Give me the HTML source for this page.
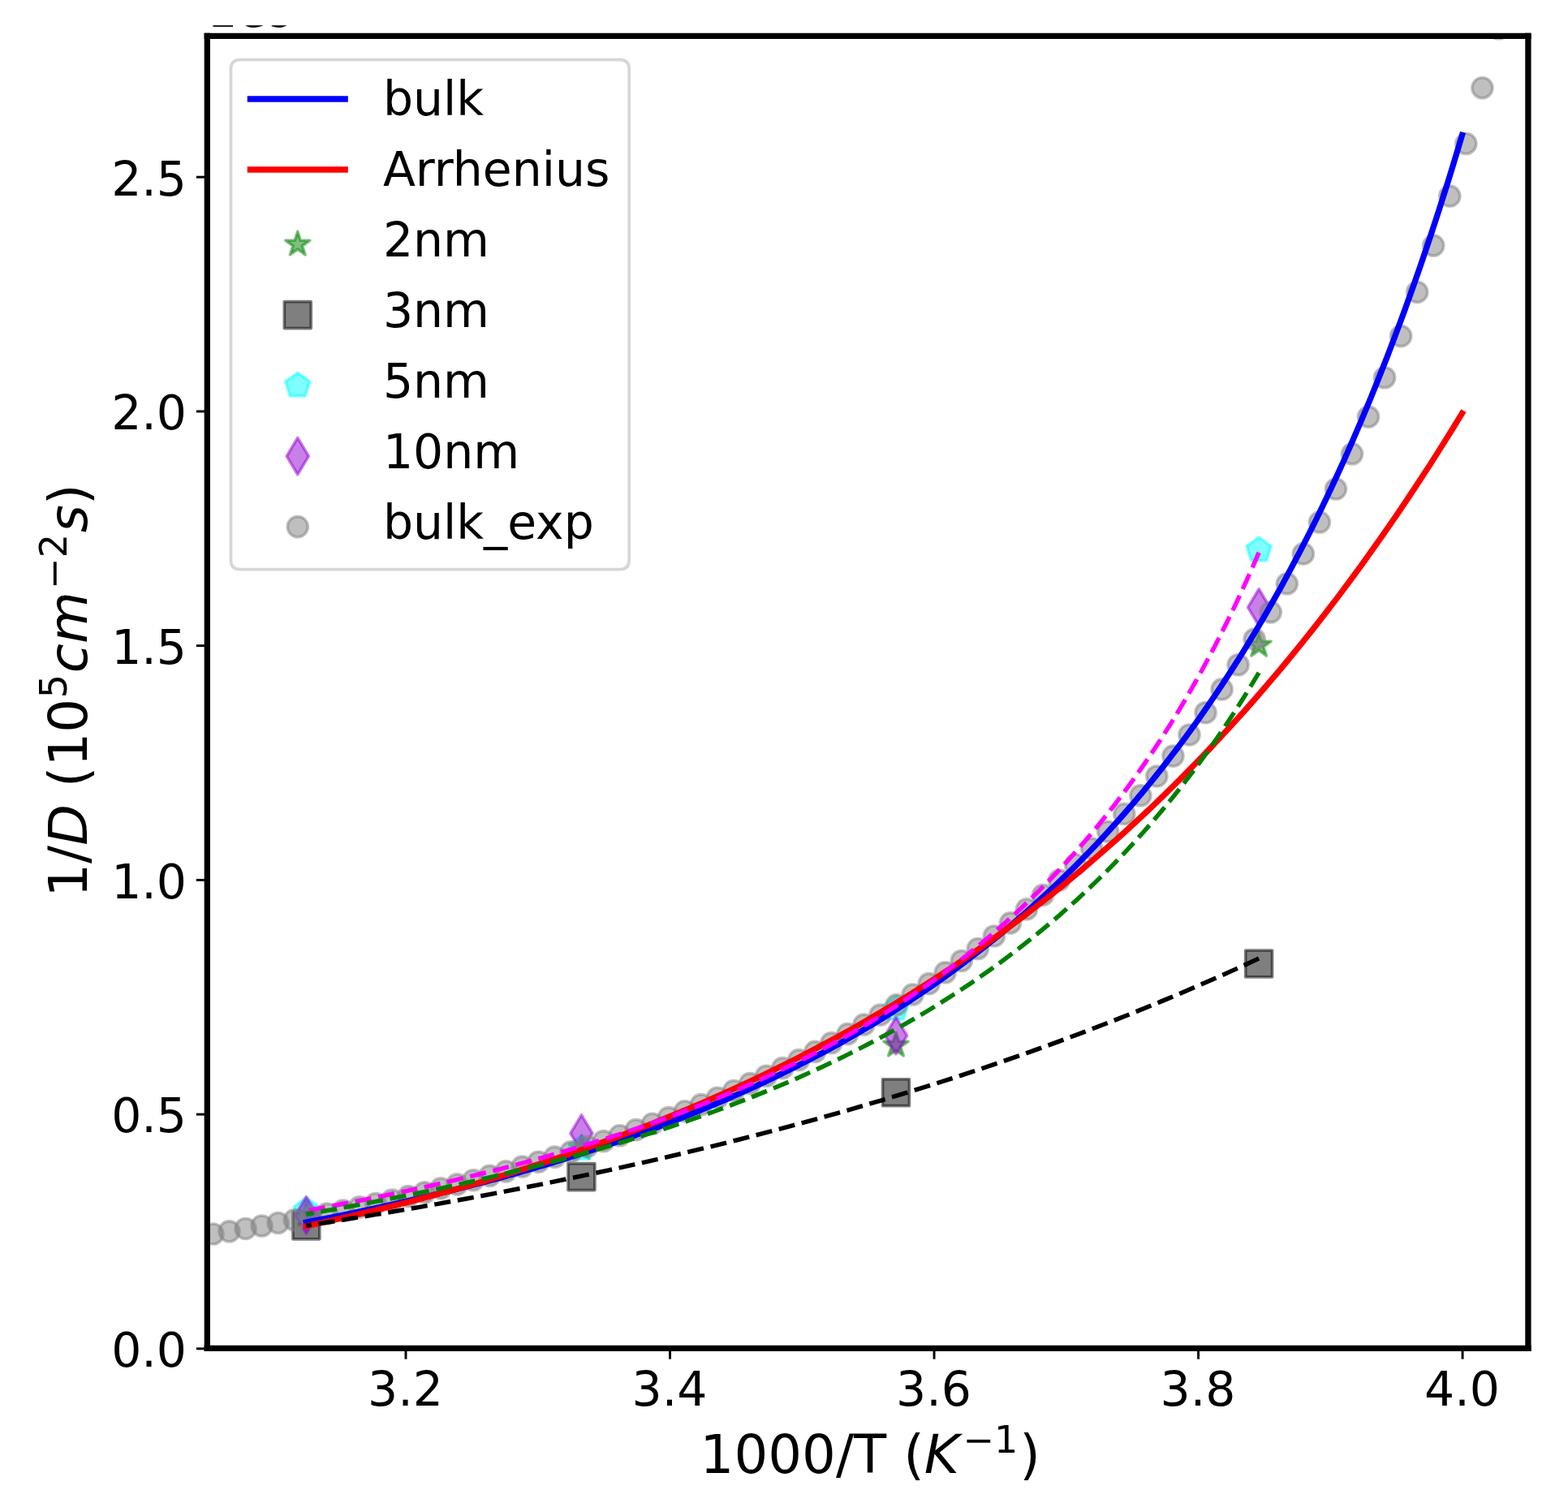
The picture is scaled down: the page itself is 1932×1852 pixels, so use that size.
<!DOCTYPE html>
<html><head><meta charset="utf-8"><title>1/D vs 1000/T</title>
<style>html,body{margin:0;padding:0;background:#fff;}svg{display:block;}</style>
</head><body>
<svg width="1932" height="1852" viewBox="0 0 1932 1852" version="1.1">
  <defs>
  <style type="text/css">*{stroke-linejoin: round; stroke-linecap: butt}</style>
 </defs>
 <g id="figure_1">
  <g id="patch_1">
   <path d="M 0 1852 L 1932 1852 L 1932 0 L 0 0 z
" style="fill: #ffffff"/>
  </g>
  <g id="axes_1">
   <g id="patch_2">
    <path d="M 255.3 1661.3 L 1882.9 1661.3 L 1882.9 44.4 L 255.3 44.4 z
" style="fill: #ffffff"/>
   </g>
   <g id="PathCollection_1">
    <defs>
     <path id="m8fa12c4485" d="M 0 -15.75 L -3.536095 -4.867018 L -14.97914 -4.867018 L -5.721522 1.859035 L -9.257618 12.742018 L -0 6.015965 L 9.257618 12.742018 L 5.721522 1.859035 L 14.97914 -4.867018 L 3.536095 -4.867018 z
" style="stroke: #008000; stroke-opacity: 0.5; stroke-width: 3.65"/>
    </defs>
    <g clip-path="url(#p1ad1f65f1b)">
     <use href="#m8fa12c4485" x="377.37" y="1496.433946" style="fill: #008000; fill-opacity: 0.5; stroke: #008000; stroke-opacity: 0.5; stroke-width: 3.65"/>
     <use href="#m8fa12c4485" x="716.453333" y="1414.895989" style="fill: #008000; fill-opacity: 0.5; stroke: #008000; stroke-opacity: 0.5; stroke-width: 3.65"/>
     <use href="#m8fa12c4485" x="1103.977143" y="1288.142579" style="fill: #008000; fill-opacity: 0.5; stroke: #008000; stroke-opacity: 0.5; stroke-width: 3.65"/>
     <use href="#m8fa12c4485" x="1551.12" y="795.161318" style="fill: #008000; fill-opacity: 0.5; stroke: #008000; stroke-opacity: 0.5; stroke-width: 3.65"/>
    </g>
   </g>
   <g id="PathCollection_2">
    <defs>
     <path id="md2a909c554" d="M -16.45 16.45 L 16.45 16.45 L 16.45 -16.45 L -16.45 -16.45 z
" style="stroke: #000000; stroke-opacity: 0.5; stroke-width: 3.65"/>
    </defs>
    <g clip-path="url(#p1ad1f65f1b)">
     <use href="#md2a909c554" x="377.37" y="1510.350836" style="fill-opacity: 0.5; stroke: #000000; stroke-opacity: 0.5; stroke-width: 3.65"/>
     <use href="#md2a909c554" x="716.453333" y="1450.121311" style="fill-opacity: 0.5; stroke: #000000; stroke-opacity: 0.5; stroke-width: 3.65"/>
     <use href="#md2a909c554" x="1103.977143" y="1346.177739" style="fill-opacity: 0.5; stroke: #000000; stroke-opacity: 0.5; stroke-width: 3.65"/>
     <use href="#md2a909c554" x="1551.12" y="1187.432807" style="fill-opacity: 0.5; stroke: #000000; stroke-opacity: 0.5; stroke-width: 3.65"/>
    </g>
   </g>
   <g id="PathCollection_3">
    <defs>
     <path id="m8193bdbd17" d="M 0 -15.75 L -14.97914 -4.867018 L -9.257618 12.742018 L 9.257618 12.742018 L 14.97914 -4.867018 z
" style="stroke: #00ffff; stroke-opacity: 0.5; stroke-width: 3.65"/>
    </defs>
    <g clip-path="url(#p1ad1f65f1b)">
     <use href="#m8193bdbd17" x="377.37" y="1491.5255" style="fill: #00ffff; fill-opacity: 0.5; stroke: #00ffff; stroke-opacity: 0.5; stroke-width: 3.65"/>
     <use href="#m8193bdbd17" x="716.453333" y="1415.357961" style="fill: #00ffff; fill-opacity: 0.5; stroke: #00ffff; stroke-opacity: 0.5; stroke-width: 3.65"/>
     <use href="#m8193bdbd17" x="1103.977143" y="1243.100364" style="fill: #00ffff; fill-opacity: 0.5; stroke: #00ffff; stroke-opacity: 0.5; stroke-width: 3.65"/>
     <use href="#m8193bdbd17" x="1551.12" y="677.878321" style="fill: #00ffff; fill-opacity: 0.5; stroke: #00ffff; stroke-opacity: 0.5; stroke-width: 3.65"/>
    </g>
   </g>
   <g id="PathCollection_4">
    <defs>
     <path id="mdb03f9ca61" d="M -0 22.627417 L 13.57645 0 L 0 -22.627417 L -13.57645 -0 z
" style="stroke: #9400d3; stroke-opacity: 0.5; stroke-width: 3.65"/>
    </defs>
    <g clip-path="url(#p1ad1f65f1b)">
     <use href="#mdb03f9ca61" x="377.37" y="1497.300143" style="fill: #9400d3; fill-opacity: 0.5; stroke: #9400d3; stroke-opacity: 0.5; stroke-width: 3.65"/>
     <use href="#mdb03f9ca61" x="716.453333" y="1396.532625" style="fill: #9400d3; fill-opacity: 0.5; stroke: #9400d3; stroke-opacity: 0.5; stroke-width: 3.65"/>
     <use href="#mdb03f9ca61" x="1103.977143" y="1276.073575" style="fill: #9400d3; fill-opacity: 0.5; stroke: #9400d3; stroke-opacity: 0.5; stroke-width: 3.65"/>
     <use href="#mdb03f9ca61" x="1551.12" y="748.328964" style="fill: #9400d3; fill-opacity: 0.5; stroke: #9400d3; stroke-opacity: 0.5; stroke-width: 3.65"/>
    </g>
   </g>
   <g id="PathCollection_5">
    <defs>
     <path id="m3ee8f2ef3a" d="M 0 12.5 C 3.315039 12.5 6.494748 11.182921 8.838835 8.838835 C 11.182921 6.494748 12.5 3.315039 12.5 0 C 12.5 -3.315039 11.182921 -6.494748 8.838835 -8.838835 C 6.494748 -11.182921 3.315039 -12.5 0 -12.5 C -3.315039 -12.5 -6.494748 -11.182921 -8.838835 -8.838835 C -11.182921 -6.494748 -12.5 -3.315039 -12.5 0 C -12.5 3.315039 -11.182921 6.494748 -8.838835 8.838835 C -6.494748 11.182921 -3.315039 12.5 0 12.5 z
" style="stroke: #808080; stroke-opacity: 0.5; stroke-width: 3.65"/>
    </defs>
    <g clip-path="url(#p1ad1f65f1b)">
     <use href="#m3ee8f2ef3a" x="242.411036" y="1523.673043" style="fill: #808080; fill-opacity: 0.5; stroke: #808080; stroke-opacity: 0.5; stroke-width: 3.65"/>
     <use href="#m3ee8f2ef3a" x="262.46144" y="1520.549419" style="fill: #808080; fill-opacity: 0.5; stroke: #808080; stroke-opacity: 0.5; stroke-width: 3.65"/>
     <use href="#m3ee8f2ef3a" x="282.511844" y="1517.321386" style="fill: #808080; fill-opacity: 0.5; stroke: #808080; stroke-opacity: 0.5; stroke-width: 3.65"/>
     <use href="#m3ee8f2ef3a" x="302.562249" y="1513.986214" style="fill: #808080; fill-opacity: 0.5; stroke: #808080; stroke-opacity: 0.5; stroke-width: 3.65"/>
     <use href="#m3ee8f2ef3a" x="322.612653" y="1510.541058" style="fill: #808080; fill-opacity: 0.5; stroke: #808080; stroke-opacity: 0.5; stroke-width: 3.65"/>
     <use href="#m3ee8f2ef3a" x="342.663058" y="1506.982958" style="fill: #808080; fill-opacity: 0.5; stroke: #808080; stroke-opacity: 0.5; stroke-width: 3.65"/>
     <use href="#m3ee8f2ef3a" x="362.713462" y="1503.308827" style="fill: #808080; fill-opacity: 0.5; stroke: #808080; stroke-opacity: 0.5; stroke-width: 3.65"/>
     <use href="#m3ee8f2ef3a" x="382.763866" y="1499.515449" style="fill: #808080; fill-opacity: 0.5; stroke: #808080; stroke-opacity: 0.5; stroke-width: 3.65"/>
     <use href="#m3ee8f2ef3a" x="402.814271" y="1495.599471" style="fill: #808080; fill-opacity: 0.5; stroke: #808080; stroke-opacity: 0.5; stroke-width: 3.65"/>
     <use href="#m3ee8f2ef3a" x="422.864675" y="1491.557397" style="fill: #808080; fill-opacity: 0.5; stroke: #808080; stroke-opacity: 0.5; stroke-width: 3.65"/>
     <use href="#m3ee8f2ef3a" x="442.91508" y="1487.385578" style="fill: #808080; fill-opacity: 0.5; stroke: #808080; stroke-opacity: 0.5; stroke-width: 3.65"/>
     <use href="#m3ee8f2ef3a" x="462.965484" y="1483.080206" style="fill: #808080; fill-opacity: 0.5; stroke: #808080; stroke-opacity: 0.5; stroke-width: 3.65"/>
     <use href="#m3ee8f2ef3a" x="483.015888" y="1478.637303" style="fill: #808080; fill-opacity: 0.5; stroke: #808080; stroke-opacity: 0.5; stroke-width: 3.65"/>
     <use href="#m3ee8f2ef3a" x="503.066293" y="1474.052711" style="fill: #808080; fill-opacity: 0.5; stroke: #808080; stroke-opacity: 0.5; stroke-width: 3.65"/>
     <use href="#m3ee8f2ef3a" x="523.116697" y="1469.322086" style="fill: #808080; fill-opacity: 0.5; stroke: #808080; stroke-opacity: 0.5; stroke-width: 3.65"/>
     <use href="#m3ee8f2ef3a" x="543.167102" y="1464.440879" style="fill: #808080; fill-opacity: 0.5; stroke: #808080; stroke-opacity: 0.5; stroke-width: 3.65"/>
     <use href="#m3ee8f2ef3a" x="563.217506" y="1459.40433" style="fill: #808080; fill-opacity: 0.5; stroke: #808080; stroke-opacity: 0.5; stroke-width: 3.65"/>
     <use href="#m3ee8f2ef3a" x="583.26791" y="1454.207455" style="fill: #808080; fill-opacity: 0.5; stroke: #808080; stroke-opacity: 0.5; stroke-width: 3.65"/>
     <use href="#m3ee8f2ef3a" x="603.318315" y="1448.845027" style="fill: #808080; fill-opacity: 0.5; stroke: #808080; stroke-opacity: 0.5; stroke-width: 3.65"/>
     <use href="#m3ee8f2ef3a" x="623.368719" y="1443.311566" style="fill: #808080; fill-opacity: 0.5; stroke: #808080; stroke-opacity: 0.5; stroke-width: 3.65"/>
     <use href="#m3ee8f2ef3a" x="643.419124" y="1437.601321" style="fill: #808080; fill-opacity: 0.5; stroke: #808080; stroke-opacity: 0.5; stroke-width: 3.65"/>
     <use href="#m3ee8f2ef3a" x="663.469528" y="1431.708251" style="fill: #808080; fill-opacity: 0.5; stroke: #808080; stroke-opacity: 0.5; stroke-width: 3.65"/>
     <use href="#m3ee8f2ef3a" x="683.519932" y="1425.626011" style="fill: #808080; fill-opacity: 0.5; stroke: #808080; stroke-opacity: 0.5; stroke-width: 3.65"/>
     <use href="#m3ee8f2ef3a" x="703.570337" y="1419.347927" style="fill: #808080; fill-opacity: 0.5; stroke: #808080; stroke-opacity: 0.5; stroke-width: 3.65"/>
     <use href="#m3ee8f2ef3a" x="723.620741" y="1412.866979" style="fill: #808080; fill-opacity: 0.5; stroke: #808080; stroke-opacity: 0.5; stroke-width: 3.65"/>
     <use href="#m3ee8f2ef3a" x="743.671146" y="1406.175773" style="fill: #808080; fill-opacity: 0.5; stroke: #808080; stroke-opacity: 0.5; stroke-width: 3.65"/>
     <use href="#m3ee8f2ef3a" x="763.72155" y="1399.266522" style="fill: #808080; fill-opacity: 0.5; stroke: #808080; stroke-opacity: 0.5; stroke-width: 3.65"/>
     <use href="#m3ee8f2ef3a" x="783.771954" y="1392.131018" style="fill: #808080; fill-opacity: 0.5; stroke: #808080; stroke-opacity: 0.5; stroke-width: 3.65"/>
     <use href="#m3ee8f2ef3a" x="803.822359" y="1384.7606" style="fill: #808080; fill-opacity: 0.5; stroke: #808080; stroke-opacity: 0.5; stroke-width: 3.65"/>
     <use href="#m3ee8f2ef3a" x="823.872763" y="1377.146129" style="fill: #808080; fill-opacity: 0.5; stroke: #808080; stroke-opacity: 0.5; stroke-width: 3.65"/>
     <use href="#m3ee8f2ef3a" x="843.923168" y="1369.277952" style="fill: #808080; fill-opacity: 0.5; stroke: #808080; stroke-opacity: 0.5; stroke-width: 3.65"/>
     <use href="#m3ee8f2ef3a" x="863.973572" y="1361.145867" style="fill: #808080; fill-opacity: 0.5; stroke: #808080; stroke-opacity: 0.5; stroke-width: 3.65"/>
     <use href="#m3ee8f2ef3a" x="884.023976" y="1352.739089" style="fill: #808080; fill-opacity: 0.5; stroke: #808080; stroke-opacity: 0.5; stroke-width: 3.65"/>
     <use href="#m3ee8f2ef3a" x="904.074381" y="1344.046203" style="fill: #808080; fill-opacity: 0.5; stroke: #808080; stroke-opacity: 0.5; stroke-width: 3.65"/>
     <use href="#m3ee8f2ef3a" x="924.124785" y="1335.055129" style="fill: #808080; fill-opacity: 0.5; stroke: #808080; stroke-opacity: 0.5; stroke-width: 3.65"/>
     <use href="#m3ee8f2ef3a" x="944.17519" y="1325.753068" style="fill: #808080; fill-opacity: 0.5; stroke: #808080; stroke-opacity: 0.5; stroke-width: 3.65"/>
     <use href="#m3ee8f2ef3a" x="964.225594" y="1316.126454" style="fill: #808080; fill-opacity: 0.5; stroke: #808080; stroke-opacity: 0.5; stroke-width: 3.65"/>
     <use href="#m3ee8f2ef3a" x="984.275998" y="1306.160903" style="fill: #808080; fill-opacity: 0.5; stroke: #808080; stroke-opacity: 0.5; stroke-width: 3.65"/>
     <use href="#m3ee8f2ef3a" x="1004.326403" y="1295.84115" style="fill: #808080; fill-opacity: 0.5; stroke: #808080; stroke-opacity: 0.5; stroke-width: 3.65"/>
     <use href="#m3ee8f2ef3a" x="1024.376807" y="1285.150989" style="fill: #808080; fill-opacity: 0.5; stroke: #808080; stroke-opacity: 0.5; stroke-width: 3.65"/>
     <use href="#m3ee8f2ef3a" x="1044.427212" y="1274.073203" style="fill: #808080; fill-opacity: 0.5; stroke: #808080; stroke-opacity: 0.5; stroke-width: 3.65"/>
     <use href="#m3ee8f2ef3a" x="1064.477616" y="1262.589496" style="fill: #808080; fill-opacity: 0.5; stroke: #808080; stroke-opacity: 0.5; stroke-width: 3.65"/>
     <use href="#m3ee8f2ef3a" x="1084.52802" y="1250.680408" style="fill: #808080; fill-opacity: 0.5; stroke: #808080; stroke-opacity: 0.5; stroke-width: 3.65"/>
     <use href="#m3ee8f2ef3a" x="1104.578425" y="1238.325232" style="fill: #808080; fill-opacity: 0.5; stroke: #808080; stroke-opacity: 0.5; stroke-width: 3.65"/>
     <use href="#m3ee8f2ef3a" x="1124.628829" y="1225.501924" style="fill: #808080; fill-opacity: 0.5; stroke: #808080; stroke-opacity: 0.5; stroke-width: 3.65"/>
     <use href="#m3ee8f2ef3a" x="1144.679234" y="1212.187" style="fill: #808080; fill-opacity: 0.5; stroke: #808080; stroke-opacity: 0.5; stroke-width: 3.65"/>
     <use href="#m3ee8f2ef3a" x="1164.729638" y="1198.355431" style="fill: #808080; fill-opacity: 0.5; stroke: #808080; stroke-opacity: 0.5; stroke-width: 3.65"/>
     <use href="#m3ee8f2ef3a" x="1184.780042" y="1183.980525" style="fill: #808080; fill-opacity: 0.5; stroke: #808080; stroke-opacity: 0.5; stroke-width: 3.65"/>
     <use href="#m3ee8f2ef3a" x="1204.830447" y="1169.033799" style="fill: #808080; fill-opacity: 0.5; stroke: #808080; stroke-opacity: 0.5; stroke-width: 3.65"/>
     <use href="#m3ee8f2ef3a" x="1224.880851" y="1153.484845" style="fill: #808080; fill-opacity: 0.5; stroke: #808080; stroke-opacity: 0.5; stroke-width: 3.65"/>
     <use href="#m3ee8f2ef3a" x="1244.931256" y="1137.301178" style="fill: #808080; fill-opacity: 0.5; stroke: #808080; stroke-opacity: 0.5; stroke-width: 3.65"/>
     <use href="#m3ee8f2ef3a" x="1264.98166" y="1120.448076" style="fill: #808080; fill-opacity: 0.5; stroke: #808080; stroke-opacity: 0.5; stroke-width: 3.65"/>
     <use href="#m3ee8f2ef3a" x="1285.032064" y="1102.888402" style="fill: #808080; fill-opacity: 0.5; stroke: #808080; stroke-opacity: 0.5; stroke-width: 3.65"/>
     <use href="#m3ee8f2ef3a" x="1305.082469" y="1084.582415" style="fill: #808080; fill-opacity: 0.5; stroke: #808080; stroke-opacity: 0.5; stroke-width: 3.65"/>
     <use href="#m3ee8f2ef3a" x="1325.132873" y="1065.487561" style="fill: #808080; fill-opacity: 0.5; stroke: #808080; stroke-opacity: 0.5; stroke-width: 3.65"/>
     <use href="#m3ee8f2ef3a" x="1345.183278" y="1045.558243" style="fill: #808080; fill-opacity: 0.5; stroke: #808080; stroke-opacity: 0.5; stroke-width: 3.65"/>
     <use href="#m3ee8f2ef3a" x="1365.233682" y="1024.745577" style="fill: #808080; fill-opacity: 0.5; stroke: #808080; stroke-opacity: 0.5; stroke-width: 3.65"/>
     <use href="#m3ee8f2ef3a" x="1385.284086" y="1002.99712" style="fill: #808080; fill-opacity: 0.5; stroke: #808080; stroke-opacity: 0.5; stroke-width: 3.65"/>
     <use href="#m3ee8f2ef3a" x="1405.334491" y="980.256575" style="fill: #808080; fill-opacity: 0.5; stroke: #808080; stroke-opacity: 0.5; stroke-width: 3.65"/>
     <use href="#m3ee8f2ef3a" x="1425.384895" y="956.463466" style="fill: #808080; fill-opacity: 0.5; stroke: #808080; stroke-opacity: 0.5; stroke-width: 3.65"/>
     <use href="#m3ee8f2ef3a" x="1445.4353" y="931.55279" style="fill: #808080; fill-opacity: 0.5; stroke: #808080; stroke-opacity: 0.5; stroke-width: 3.65"/>
     <use href="#m3ee8f2ef3a" x="1465.485704" y="905.454624" style="fill: #808080; fill-opacity: 0.5; stroke: #808080; stroke-opacity: 0.5; stroke-width: 3.65"/>
     <use href="#m3ee8f2ef3a" x="1485.536108" y="878.093704" style="fill: #808080; fill-opacity: 0.5; stroke: #808080; stroke-opacity: 0.5; stroke-width: 3.65"/>
     <use href="#m3ee8f2ef3a" x="1505.586513" y="849.388959" style="fill: #808080; fill-opacity: 0.5; stroke: #808080; stroke-opacity: 0.5; stroke-width: 3.65"/>
     <use href="#m3ee8f2ef3a" x="1525.636917" y="819.253002" style="fill: #808080; fill-opacity: 0.5; stroke: #808080; stroke-opacity: 0.5; stroke-width: 3.65"/>
     <use href="#m3ee8f2ef3a" x="1545.687322" y="787.591566" style="fill: #808080; fill-opacity: 0.5; stroke: #808080; stroke-opacity: 0.5; stroke-width: 3.65"/>
     <use href="#m3ee8f2ef3a" x="1565.737726" y="754.302887" style="fill: #808080; fill-opacity: 0.5; stroke: #808080; stroke-opacity: 0.5; stroke-width: 3.65"/>
     <use href="#m3ee8f2ef3a" x="1585.78813" y="719.277024" style="fill: #808080; fill-opacity: 0.5; stroke: #808080; stroke-opacity: 0.5; stroke-width: 3.65"/>
     <use href="#m3ee8f2ef3a" x="1605.838535" y="682.395111" style="fill: #808080; fill-opacity: 0.5; stroke: #808080; stroke-opacity: 0.5; stroke-width: 3.65"/>
     <use href="#m3ee8f2ef3a" x="1625.888939" y="643.528528" style="fill: #808080; fill-opacity: 0.5; stroke: #808080; stroke-opacity: 0.5; stroke-width: 3.65"/>
     <use href="#m3ee8f2ef3a" x="1645.939344" y="602.537991" style="fill: #808080; fill-opacity: 0.5; stroke: #808080; stroke-opacity: 0.5; stroke-width: 3.65"/>
     <use href="#m3ee8f2ef3a" x="1665.989748" y="559.272539" style="fill: #808080; fill-opacity: 0.5; stroke: #808080; stroke-opacity: 0.5; stroke-width: 3.65"/>
     <use href="#m3ee8f2ef3a" x="1686.040152" y="513.568422" style="fill: #808080; fill-opacity: 0.5; stroke: #808080; stroke-opacity: 0.5; stroke-width: 3.65"/>
     <use href="#m3ee8f2ef3a" x="1706.090557" y="465.247864" style="fill: #808080; fill-opacity: 0.5; stroke: #808080; stroke-opacity: 0.5; stroke-width: 3.65"/>
     <use href="#m3ee8f2ef3a" x="1726.140961" y="414.117688" style="fill: #808080; fill-opacity: 0.5; stroke: #808080; stroke-opacity: 0.5; stroke-width: 3.65"/>
     <use href="#m3ee8f2ef3a" x="1746.191366" y="359.967806" style="fill: #808080; fill-opacity: 0.5; stroke: #808080; stroke-opacity: 0.5; stroke-width: 3.65"/>
     <use href="#m3ee8f2ef3a" x="1766.24177" y="302.569517" style="fill: #808080; fill-opacity: 0.5; stroke: #808080; stroke-opacity: 0.5; stroke-width: 3.65"/>
     <use href="#m3ee8f2ef3a" x="1786.292174" y="241.673642" style="fill: #808080; fill-opacity: 0.5; stroke: #808080; stroke-opacity: 0.5; stroke-width: 3.65"/>
     <use href="#m3ee8f2ef3a" x="1806.342579" y="177.008425" style="fill: #808080; fill-opacity: 0.5; stroke: #808080; stroke-opacity: 0.5; stroke-width: 3.65"/>
     <use href="#m3ee8f2ef3a" x="1826.392983" y="108.277205" style="fill: #808080; fill-opacity: 0.5; stroke: #808080; stroke-opacity: 0.5; stroke-width: 3.65"/>
     <use href="#m3ee8f2ef3a" x="1846.443388" y="35.276064" style="fill: #808080; fill-opacity: 0.5; stroke: #808080; stroke-opacity: 0.5; stroke-width: 3.65"/>
    </g>
   </g>
   <g id="matplotlib.axis_1">
    <g id="xtick_1">
     <g id="xtm1" transform="translate(0.55 0)">
      <defs>
       <path id="mb03ee0408a" d="M 0 0 L 0 13.4 " style="stroke: #000000; stroke-width: 2.95"/>
      </defs>
      <g>
       <use href="#mb03ee0408a" x="499.44" y="1661.3" style="stroke: #000000; stroke-width: 2.95"/>
      </g>
     </g>
     <g id="xtl1" transform="translate(0 0.5)">
      <text style="font-size: 58.4px; font-family: 'DejaVu Sans', sans-serif; text-anchor: middle" x="499.44" y="1731.849875" transform="rotate(-0 499.44 1731.849875)">3.2</text>
     </g>
    </g>
    <g id="xtick_2">
     <g id="xtm2" transform="translate(0.55 0)">
      <g>
       <use href="#mb03ee0408a" x="824.96" y="1661.3" style="stroke: #000000; stroke-width: 2.95"/>
      </g>
     </g>
     <g id="xtl2" transform="translate(0 0.5)">
      <text style="font-size: 58.4px; font-family: 'DejaVu Sans', sans-serif; text-anchor: middle" x="824.96" y="1731.849875" transform="rotate(-0 824.96 1731.849875)">3.4</text>
     </g>
    </g>
    <g id="xtick_3">
     <g id="xtm3" transform="translate(0.55 0)">
      <g>
       <use href="#mb03ee0408a" x="1150.48" y="1661.3" style="stroke: #000000; stroke-width: 2.95"/>
      </g>
     </g>
     <g id="xtl3" transform="translate(0 0.5)">
      <text style="font-size: 58.4px; font-family: 'DejaVu Sans', sans-serif; text-anchor: middle" x="1150.48" y="1731.849875" transform="rotate(-0 1150.48 1731.849875)">3.6</text>
     </g>
    </g>
    <g id="xtick_4">
     <g id="xtm4" transform="translate(0.55 0)">
      <g>
       <use href="#mb03ee0408a" x="1476" y="1661.3" style="stroke: #000000; stroke-width: 2.95"/>
      </g>
     </g>
     <g id="xtl4" transform="translate(0 0.5)">
      <text style="font-size: 58.4px; font-family: 'DejaVu Sans', sans-serif; text-anchor: middle" x="1476" y="1731.849875" transform="rotate(-0 1476 1731.849875)">3.8</text>
     </g>
    </g>
    <g id="xtick_5">
     <g id="xtm5" transform="translate(0.55 0)">
      <g>
       <use href="#mb03ee0408a" x="1801.52" y="1661.3" style="stroke: #000000; stroke-width: 2.95"/>
      </g>
     </g>
     <g id="xtl5" transform="translate(0 0.5)">
      <text style="font-size: 58.4px; font-family: 'DejaVu Sans', sans-serif; text-anchor: middle" x="1801.52" y="1731.849875" transform="rotate(-0 1801.52 1731.849875)">4.0</text>
     </g>
    </g>
    <g id="xlabel" transform="translate(3.1 1.9)">
     <!-- 1000/T ($K^{-1}$) -->
     <g transform="translate(859.517 1813.259703)">
      <text>
       <tspan x="0" y="-0.057813" style="font-size: 65.7px; font-family: 'DejaVu Sans', sans-serif">1</tspan>
       <tspan x="41.832153" y="-0.057813" style="font-size: 65.7px; font-family: 'DejaVu Sans', sans-serif">0</tspan>
       <tspan x="83.664307" y="-0.057813" style="font-size: 65.7px; font-family: 'DejaVu Sans', sans-serif">0</tspan>
       <tspan x="125.49646" y="-0.057813" style="font-size: 65.7px; font-family: 'DejaVu Sans', sans-serif">0</tspan>
       <tspan x="167.328613" y="-0.057813" style="font-size: 65.7px; font-family: 'DejaVu Sans', sans-serif">/</tspan>
       <tspan x="189.480713" y="-0.057813" style="font-size: 65.7px; font-family: 'DejaVu Sans', sans-serif">T</tspan>
       <tspan x="229.643433" y="-0.057813" style="font-size: 65.7px; font-family: 'DejaVu Sans', sans-serif"> </tspan>
       <tspan x="250.543457" y="-0.057813" style="font-size: 65.7px; font-family: 'DejaVu Sans', sans-serif">(</tspan>
       <tspan x="393.592234" y="-0.057813" style="font-size: 65.7px; font-family: 'DejaVu Sans', sans-serif">)</tspan>
       <tspan x="276.194946" y="-0.057813" style="font-style: oblique; font-size: 65.7px; font-family: 'DejaVu Sans', sans-serif">K</tspan>
       <tspan x="323.941123" y="-25.323438" style="font-size: 45.99px; font-family: 'DejaVu Sans', sans-serif">−</tspan>
       <tspan x="362.505039" y="-25.323438" style="font-size: 45.99px; font-family: 'DejaVu Sans', sans-serif">1</tspan>
      </text>
     </g>
    </g>
   </g>
   <g id="matplotlib.axis_2">
    <g id="ytick_1">
     <g id="ytm0" transform="translate(0 0.55)">
      <defs>
       <path id="md7cd1e21f3" d="M 0 0 L -13.4 0 " style="stroke: #000000; stroke-width: 2.95"/>
      </defs>
      <g>
       <use href="#md7cd1e21f3" x="255.3" y="1661.3" style="stroke: #000000; stroke-width: 2.95"/>
      </g>
     </g>
     <g id="ytl0" transform="translate(0.9 0.7)">
      <text style="font-size: 58.4px; font-family: 'DejaVu Sans', sans-serif; text-anchor: end" x="229.125" y="1683.487437" transform="rotate(-0 229.125 1683.487437)">0.0</text>
     </g>
    </g>
    <g id="ytick_2">
     <g id="ytm1" transform="translate(0 0.55)">
      <g>
       <use href="#md7cd1e21f3" x="255.3" y="1372.567857" style="stroke: #000000; stroke-width: 2.95"/>
      </g>
     </g>
     <g id="ytl1" transform="translate(0.9 0.7)">
      <text style="font-size: 58.4px; font-family: 'DejaVu Sans', sans-serif; text-anchor: end" x="229.125" y="1394.755295" transform="rotate(-0 229.125 1394.755295)">0.5</text>
     </g>
    </g>
    <g id="ytick_3">
     <g id="ytm2" transform="translate(0 0.55)">
      <g>
       <use href="#md7cd1e21f3" x="255.3" y="1083.835714" style="stroke: #000000; stroke-width: 2.95"/>
      </g>
     </g>
     <g id="ytl2" transform="translate(0.9 0.7)">
      <text style="font-size: 58.4px; font-family: 'DejaVu Sans', sans-serif; text-anchor: end" x="229.125" y="1106.023152" transform="rotate(-0 229.125 1106.023152)">1.0</text>
     </g>
    </g>
    <g id="ytick_4">
     <g id="ytm3" transform="translate(0 0.55)">
      <g>
       <use href="#md7cd1e21f3" x="255.3" y="795.103571" style="stroke: #000000; stroke-width: 2.95"/>
      </g>
     </g>
     <g id="ytl3" transform="translate(0.9 0.7)">
      <text style="font-size: 58.4px; font-family: 'DejaVu Sans', sans-serif; text-anchor: end" x="229.125" y="817.291009" transform="rotate(-0 229.125 817.291009)">1.5</text>
     </g>
    </g>
    <g id="ytick_5">
     <g id="ytm4" transform="translate(0 0.55)">
      <g>
       <use href="#md7cd1e21f3" x="255.3" y="506.371429" style="stroke: #000000; stroke-width: 2.95"/>
      </g>
     </g>
     <g id="ytl4" transform="translate(0.9 0.7)">
      <text style="font-size: 58.4px; font-family: 'DejaVu Sans', sans-serif; text-anchor: end" x="229.125" y="528.558866" transform="rotate(-0 229.125 528.558866)">2.0</text>
     </g>
    </g>
    <g id="ytick_6">
     <g id="ytm5" transform="translate(0 0.55)">
      <g>
       <use href="#md7cd1e21f3" x="255.3" y="217.639286" style="stroke: #000000; stroke-width: 2.95"/>
      </g>
     </g>
     <g id="ytl5" transform="translate(0.9 0.7)">
      <text style="font-size: 58.4px; font-family: 'DejaVu Sans', sans-serif; text-anchor: end" x="229.125" y="239.826723" transform="rotate(-0 229.125 239.826723)">2.5</text>
     </g>
    </g>
    <g id="ylabel" transform="translate(-0.4 -1.7)">
     <!-- 1/$D$ ($10^5 cm^{-2} s$) -->
     <g transform="translate(107.987203 1107.4375) rotate(-90)">
      <text>
       <tspan x="0" y="-0.445312" style="font-size: 65.7px; font-family: 'DejaVu Sans', sans-serif">1</tspan>
       <tspan x="41.832153" y="-0.445312" style="font-size: 65.7px; font-family: 'DejaVu Sans', sans-serif">/</tspan>
       <tspan x="114.613037" y="-0.445312" style="font-size: 65.7px; font-family: 'DejaVu Sans', sans-serif"> </tspan>
       <tspan x="135.513062" y="-0.445312" style="font-size: 65.7px; font-family: 'DejaVu Sans', sans-serif">(</tspan>
       <tspan x="161.164551" y="-0.445312" style="font-size: 65.7px; font-family: 'DejaVu Sans', sans-serif">1</tspan>
       <tspan x="202.996704" y="-0.445312" style="font-size: 65.7px; font-family: 'DejaVu Sans', sans-serif">0</tspan>
       <tspan x="483.722573" y="-0.445312" style="font-size: 65.7px; font-family: 'DejaVu Sans', sans-serif">)</tspan>
       <tspan x="63.984253" y="-0.445312" style="font-style: oblique; font-size: 65.7px; font-family: 'DejaVu Sans', sans-serif">D</tspan>
       <tspan x="276.547693" y="-0.445312" style="font-style: oblique; font-size: 65.7px; font-family: 'DejaVu Sans', sans-serif">c</tspan>
       <tspan x="312.697351" y="-0.445312" style="font-style: oblique; font-size: 65.7px; font-family: 'DejaVu Sans', sans-serif">m</tspan>
       <tspan x="449.46708" y="-0.445312" style="font-style: oblique; font-size: 65.7px; font-family: 'DejaVu Sans', sans-serif">s</tspan>
       <tspan x="245.460498" y="-25.710938" style="font-size: 45.99px; font-family: 'DejaVu Sans', sans-serif">5</tspan>
       <tspan x="379.815969" y="-25.710938" style="font-size: 45.99px; font-family: 'DejaVu Sans', sans-serif">−</tspan>
       <tspan x="418.379885" y="-25.710938" style="font-size: 45.99px; font-family: 'DejaVu Sans', sans-serif">2</tspan>
      </text>
     </g>
    </g>
   </g>
   <g id="line2d_1">
    <path d="M 377.37 1506.17333 L 405.924386 1500.5857 L 434.478772 1494.761064 L 463.033158 1488.687025 L 488.018246 1483.157301 L 513.003333 1477.417171 L 537.988421 1471.456729 L 562.973509 1465.265499 L 587.958596 1458.832397 L 612.943684 1452.145687 L 634.359474 1446.202963 L 655.775263 1440.056525 L 677.191053 1433.697681 L 698.606842 1427.117282 L 720.022632 1420.305697 L 741.438421 1413.252782 L 762.854211 1405.947848 L 784.27 1398.379624 L 805.685789 1390.536219 L 823.532281 1383.780808 L 841.378772 1376.817964 L 859.225263 1369.639695 L 877.071754 1362.237632 L 894.918246 1354.603008 L 912.764737 1346.726631 L 930.611228 1338.598865 L 948.457719 1330.2096 L 966.304211 1321.548229 L 984.150702 1312.603613 L 1001.997193 1303.364053 L 1019.843684 1293.817255 L 1034.120877 1285.949941 L 1048.39807 1277.870812 L 1062.675263 1269.572654 L 1076.952456 1261.047955 L 1091.229649 1252.288882 L 1105.506842 1243.28727 L 1119.784035 1234.034606 L 1134.061228 1224.522006 L 1148.338421 1214.7402 L 1162.615614 1204.679512 L 1176.892807 1194.329834 L 1191.17 1183.68061 L 1205.447193 1172.720806 L 1219.724386 1161.438889 L 1234.001579 1149.822795 L 1248.278772 1137.859904 L 1262.555965 1125.537008 L 1276.833158 1112.840277 L 1291.110351 1099.755226 L 1301.818246 1089.677498 L 1312.52614 1079.366144 L 1323.234035 1068.814249 L 1333.94193 1058.014647 L 1344.649825 1046.959908 L 1355.357719 1035.642326 L 1366.065614 1024.053908 L 1376.773509 1012.186363 L 1387.481404 1000.031084 L 1398.189298 987.579138 L 1408.897193 974.821249 L 1419.605088 961.747782 L 1430.312982 948.348728 L 1441.020877 934.613686 L 1451.728772 920.531843 L 1462.436667 906.091957 L 1473.144561 891.282334 L 1483.852456 876.09081 L 1494.560351 860.504723 L 1505.268246 844.510894 L 1515.97614 828.095598 L 1526.684035 811.244538 L 1537.39193 793.942818 L 1548.099825 776.17491 L 1558.807719 757.924625 L 1569.515614 739.175075 L 1580.223509 719.908642 L 1590.931404 700.106936 L 1601.639298 679.750758 L 1612.347193 658.820053 L 1623.055088 637.293867 L 1633.762982 615.1503 L 1644.470877 592.36645 L 1655.178772 568.918364 L 1665.886667 544.780974 L 1676.594561 519.92804 L 1687.302456 494.33208 L 1698.010351 467.964303 L 1708.718246 440.794532 L 1719.42614 412.791123 L 1730.134035 383.920882 L 1740.84193 354.14897 L 1751.549825 323.43881 L 1762.257719 291.75198 L 1772.965614 259.048098 L 1783.673509 225.284708 L 1790.812105 202.165206 L 1797.950702 178.541203 L 1801.52 166.535569 L 1801.52 166.535569 " clip-path="url(#p1ad1f65f1b)" style="fill: none; stroke: #0000ff; stroke-width: 7.3; stroke-linecap: square"/>
   </g>
   <g id="line2d_2">
    <path d="M 377.37 1510.755061 L 405.924386 1504.485398 L 430.909474 1498.78562 L 455.894561 1492.878671 L 480.879649 1486.75702 L 505.864737 1480.412864 L 530.849825 1473.838115 L 555.834912 1467.024393 L 580.82 1459.96301 L 605.805088 1452.644966 L 630.790175 1445.060931 L 652.205965 1438.341304 L 673.621754 1431.412864 L 695.037544 1424.269123 L 716.453333 1416.90339 L 737.869123 1409.308767 L 759.284912 1401.478142 L 780.700702 1393.404179 L 802.116491 1385.079319 L 823.532281 1376.495763 L 844.94807 1367.645474 L 866.36386 1358.520162 L 887.779649 1349.11128 L 905.62614 1341.047582 L 923.472632 1332.775601 L 941.319123 1324.289959 L 959.165614 1315.585136 L 977.012105 1306.655472 L 994.858596 1297.495158 L 1012.705088 1288.098237 L 1030.551579 1278.458598 L 1048.39807 1268.569972 L 1066.244561 1258.425926 L 1084.091053 1248.019864 L 1101.937544 1237.345018 L 1119.784035 1226.394445 L 1137.630526 1215.161024 L 1155.477018 1203.637449 L 1173.323509 1191.816224 L 1191.17 1179.689663 L 1209.016491 1167.249877 L 1226.862982 1154.488778 L 1244.709474 1141.398064 L 1262.555965 1127.969224 L 1276.833158 1116.976838 L 1291.110351 1105.75789 L 1305.387544 1094.30771 L 1319.664737 1082.621533 L 1333.94193 1070.694494 L 1348.219123 1058.521629 L 1362.496316 1046.097871 L 1376.773509 1033.41805 L 1391.050702 1020.476886 L 1405.327895 1007.268995 L 1419.605088 993.788878 L 1433.882281 980.030925 L 1448.159474 965.98941 L 1462.436667 951.658487 L 1476.71386 937.032192 L 1490.991053 922.104437 L 1505.268246 906.869008 L 1519.545439 891.319565 L 1533.822632 875.449636 L 1548.099825 859.252614 L 1562.377018 842.721757 L 1576.654211 825.850187 L 1590.931404 808.630879 L 1605.208596 791.056668 L 1619.485789 773.120237 L 1633.762982 754.814122 L 1648.040175 736.130703 L 1662.317368 717.062203 L 1676.594561 697.600686 L 1690.871754 677.73805 L 1705.148947 657.46603 L 1719.42614 636.776187 L 1733.703333 615.659908 L 1747.980526 594.108407 L 1762.257719 572.11271 L 1776.534912 549.663665 L 1790.812105 526.751926 L 1801.52 509.25875 L 1801.52 509.25875 " clip-path="url(#p1ad1f65f1b)" style="fill: none; stroke: #ff0000; stroke-width: 7.3; stroke-linecap: square"/>
   </g>
   <g id="line2d_3">
    <path d="M 1551.12 680.897689 L 1543.268829 699.002956 L 1535.417659 716.591003 L 1527.566488 733.682214 L 1519.715318 750.295948 L 1511.864147 766.450606 L 1504.012977 782.163687 L 1496.161806 797.451839 L 1488.310635 812.330913 L 1480.459465 826.816006 L 1472.608294 840.921506 L 1464.757124 854.661131 L 1456.905953 868.04797 L 1449.054783 881.094514 L 1441.203612 893.812691 L 1433.352441 906.213897 L 1425.501271 918.309024 L 1417.6501 930.108486 L 1409.79893 941.622248 L 1401.947759 952.859846 L 1394.096589 963.830411 L 1386.245418 974.542688 L 1374.468662 990.145052 L 1362.691906 1005.211888 L 1350.915151 1019.768413 L 1339.138395 1033.838338 L 1327.361639 1047.443975 L 1315.584883 1060.60634 L 1303.808127 1073.345239 L 1292.031371 1085.679356 L 1280.254615 1097.626329 L 1268.47786 1109.202821 L 1256.701104 1120.424582 L 1244.924348 1131.306513 L 1233.147592 1141.862722 L 1221.370836 1152.10657 L 1209.59408 1162.050725 L 1197.817324 1171.707199 L 1186.040569 1181.087397 L 1174.263813 1190.202145 L 1162.487057 1199.061733 L 1150.710301 1207.675943 L 1138.933545 1216.054082 L 1127.156789 1224.205007 L 1115.380033 1232.137152 L 1103.603278 1239.858556 L 1091.826522 1247.376881 L 1076.124181 1257.097994 L 1060.421839 1266.487438 L 1044.719498 1275.560639 L 1029.017157 1284.332116 L 1013.314816 1292.815542 L 997.612475 1301.023806 L 981.910134 1308.969065 L 966.207793 1316.662796 L 950.505452 1324.115842 L 934.80311 1331.338452 L 919.100769 1338.340323 L 903.398428 1345.130633 L 887.696087 1351.718078 L 868.068161 1359.679621 L 848.440234 1367.352208 L 828.812308 1374.750053 L 809.184381 1381.886487 L 789.556455 1388.774023 L 769.928528 1395.424416 L 750.300602 1401.84872 L 730.672676 1408.057336 L 711.044749 1414.06006 L 687.491237 1421.004512 L 663.937726 1427.680714 L 640.384214 1434.102632 L 616.830702 1440.283316 L 593.277191 1446.234969 L 569.723679 1451.969017 L 546.170167 1457.496163 L 518.69107 1463.69636 L 491.211973 1469.643473 L 463.732876 1475.35135 L 436.253779 1480.832883 L 408.774682 1486.100091 L 381.295585 1491.164187 L 377.37 1491.871668 L 377.37 1491.871668 " clip-path="url(#p1ad1f65f1b)" style="fill: none; stroke-dasharray: 20.2242,8.7456; stroke-dashoffset: 0; stroke: #ff00ff; stroke-width: 5.466"/>
   </g>
   <g id="line2d_4">
    <path d="M 1551.12 828.820569 L 1543.268829 841.918248 L 1535.417659 854.706143 L 1527.566488 867.194283 L 1519.715318 879.392285 L 1511.864147 891.309377 L 1504.012977 902.95441 L 1492.236221 919.930349 L 1480.459465 936.34048 L 1468.682709 952.210495 L 1456.905953 967.564611 L 1445.129197 982.425672 L 1433.352441 996.815242 L 1421.575686 1010.753693 L 1409.79893 1024.260283 L 1398.022174 1037.353229 L 1386.245418 1050.049777 L 1374.468662 1062.366263 L 1362.691906 1074.318171 L 1350.915151 1085.920186 L 1339.138395 1097.186246 L 1327.361639 1108.129584 L 1315.584883 1118.762776 L 1303.808127 1129.097776 L 1292.031371 1139.145954 L 1280.254615 1148.918133 L 1268.47786 1158.424619 L 1256.701104 1167.675229 L 1244.924348 1176.679322 L 1233.147592 1185.445823 L 1221.370836 1193.98325 L 1209.59408 1202.299731 L 1197.817324 1210.403031 L 1186.040569 1218.30057 L 1170.338227 1228.52276 L 1154.635886 1238.407685 L 1138.933545 1247.970397 L 1123.231204 1257.225099 L 1107.528863 1266.185205 L 1091.826522 1274.86339 L 1076.124181 1283.271641 L 1060.421839 1291.4213 L 1044.719498 1299.323109 L 1029.017157 1306.987246 L 1013.314816 1314.42336 L 997.612475 1321.640607 L 981.910134 1328.647677 L 966.207793 1335.452825 L 946.579866 1343.687223 L 926.95194 1351.632831 L 907.324013 1359.303262 L 887.696087 1366.711318 L 868.068161 1373.869052 L 848.440234 1380.78782 L 828.812308 1387.478327 L 809.184381 1393.950674 L 789.556455 1400.2144 L 769.928528 1406.278518 L 746.375017 1413.303941 L 722.821505 1420.068034 L 699.267993 1426.583779 L 675.714482 1432.863347 L 652.16097 1438.918158 L 628.607458 1444.758938 L 605.053946 1450.39577 L 577.574849 1456.726927 L 550.095753 1462.807488 L 522.616656 1468.650619 L 495.137559 1474.26862 L 467.658462 1479.672991 L 440.179365 1484.874494 L 408.774682 1490.58356 L 377.37 1496.054849 L 377.37 1496.054849 " clip-path="url(#p1ad1f65f1b)" style="fill: none; stroke-dasharray: 20.2242,8.7456; stroke-dashoffset: 0; stroke: #008000; stroke-width: 5.466"/>
   </g>
   <g id="line2d_5">
    <path d="M 1551.12 1181.021321 L 1527.566488 1191.86998 L 1504.012977 1202.475588 L 1480.459465 1212.843823 L 1456.905953 1222.98022 L 1433.352441 1232.890173 L 1409.79893 1242.578941 L 1386.245418 1252.051651 L 1362.691906 1261.313301 L 1335.212809 1271.858297 L 1307.733712 1282.130176 L 1280.254615 1292.136249 L 1252.775518 1301.883619 L 1225.296421 1311.379181 L 1197.817324 1320.629636 L 1170.338227 1329.641492 L 1142.85913 1338.421069 L 1115.380033 1346.974512 L 1087.900936 1355.307787 L 1060.421839 1363.426694 L 1032.942742 1371.33687 L 1001.53806 1380.1285 L 970.133378 1388.662581 L 938.728696 1396.946791 L 907.324013 1404.988564 L 875.919331 1412.795099 L 844.514649 1420.373365 L 813.109967 1427.730115 L 781.705284 1434.871888 L 750.300602 1441.805017 L 714.970334 1449.363028 L 679.640067 1456.673185 L 644.309799 1463.743643 L 608.979532 1470.582273 L 573.649264 1477.196673 L 538.318997 1483.59418 L 502.988729 1489.781877 L 463.732876 1496.419334 L 424.477023 1502.815251 L 385.221171 1508.978331 L 377.37 1510.18375 L 377.37 1510.18375 " clip-path="url(#p1ad1f65f1b)" style="fill: none; stroke-dasharray: 20.2242,8.7456; stroke-dashoffset: 0; stroke: #000000; stroke-width: 5.466"/>
   </g>
   <g id="patch_3">
    <path d="M 255.3 1661.3 L 255.3 44.4 " style="fill: none; stroke: #000000; stroke-width: 7.3; stroke-linejoin: miter; stroke-linecap: square"/>
   </g>
   <g id="patch_4">
    <path d="M 1882.9 1661.3 L 1882.9 44.4 " style="fill: none; stroke: #000000; stroke-width: 7.3; stroke-linejoin: miter; stroke-linecap: square"/>
   </g>
   <g id="patch_5">
    <path d="M 255.3 1661.3 L 1882.9 1661.3 " style="fill: none; stroke: #000000; stroke-width: 7.3; stroke-linejoin: miter; stroke-linecap: square"/>
   </g>
   <g id="patch_6">
    <path d="M 255.3 44.4 L 1882.9 44.4 " style="fill: none; stroke: #000000; stroke-width: 7.3; stroke-linejoin: miter; stroke-linecap: square"/>
   </g>
   <g id="legframe">
    <path d="M 296.08 701.6 L 763.52 701.6 Q 775.2 701.6 775.2 689.92 L 775.2 85.28 Q 775.2 73.6 763.52 73.6 L 296.08 73.6 Q 284.4 73.6 284.4 85.28 L 284.4 689.92 Q 284.4 701.6 296.08 701.6 z
" style="fill: #ffffff; fill-opacity: 0.8; stroke: #cccccc; stroke-opacity: 0.8; stroke-width: 3.65; stroke-linejoin: miter"/>
   </g>
   <g id="legend" transform="translate(-0.9 -0.3)">
    <g id="line2d_6">
     <path d="M 309.2616 122.296475 L 367.6616 122.296475 L 426.0616 122.296475 " style="fill: none; stroke: #0000ff; stroke-width: 7.3; stroke-linecap: square"/>
    </g>
    <g id="text_1">
     <text style="font-size: 58.4px; font-family: 'DejaVu Sans', sans-serif; text-anchor: start" x="472.7816" y="142.736475" transform="rotate(-0 472.7816 142.736475)">bulk</text>
    </g>
    <g id="line2d_7">
     <path d="M 309.2616 209.295685 L 367.6616 209.295685 L 426.0616 209.295685 " style="fill: none; stroke: #ff0000; stroke-width: 7.3; stroke-linecap: square"/>
    </g>
    <g id="text_2">
     <text style="font-size: 58.4px; font-family: 'DejaVu Sans', sans-serif; text-anchor: start" x="472.7816" y="229.735685" transform="rotate(-0 472.7816 229.735685)">Arrhenius</text>
    </g>
    <g id="PathCollection_6">
     <g>
      <use href="#m8fa12c4485" x="367.6616" y="301.404895" style="fill: #008000; fill-opacity: 0.5; stroke: #008000; stroke-opacity: 0.5; stroke-width: 3.65"/>
     </g>
    </g>
    <g id="text_3">
     <text style="font-size: 58.4px; font-family: 'DejaVu Sans', sans-serif; text-anchor: start" x="472.7816" y="316.734895" transform="rotate(-0 472.7816 316.734895)">2nm</text>
    </g>
    <g id="PathCollection_7">
     <g>
      <use href="#md2a909c554" x="367.6616" y="388.404105" style="fill-opacity: 0.5; stroke: #000000; stroke-opacity: 0.5; stroke-width: 3.65"/>
     </g>
    </g>
    <g id="text_4">
     <text style="font-size: 58.4px; font-family: 'DejaVu Sans', sans-serif; text-anchor: start" x="472.7816" y="403.734105" transform="rotate(-0 472.7816 403.734105)">3nm</text>
    </g>
    <g id="PathCollection_8">
     <g>
      <use href="#m8193bdbd17" x="367.6616" y="475.403315" style="fill: #00ffff; fill-opacity: 0.5; stroke: #00ffff; stroke-opacity: 0.5; stroke-width: 3.65"/>
     </g>
    </g>
    <g id="text_5">
     <text style="font-size: 58.4px; font-family: 'DejaVu Sans', sans-serif; text-anchor: start" x="472.7816" y="490.733315" transform="rotate(-0 472.7816 490.733315)">5nm</text>
    </g>
    <g id="PathCollection_9">
     <g>
      <use href="#mdb03f9ca61" x="367.6616" y="562.402525" style="fill: #9400d3; fill-opacity: 0.5; stroke: #9400d3; stroke-opacity: 0.5; stroke-width: 3.65"/>
     </g>
    </g>
    <g id="text_6">
     <text style="font-size: 58.4px; font-family: 'DejaVu Sans', sans-serif; text-anchor: start" x="472.7816" y="577.732525" transform="rotate(-0 472.7816 577.732525)">10nm</text>
    </g>
    <g id="PathCollection_10">
     <g>
      <use href="#m3ee8f2ef3a" x="367.6616" y="649.401735" style="fill: #808080; fill-opacity: 0.5; stroke: #808080; stroke-opacity: 0.5; stroke-width: 3.65"/>
     </g>
    </g>
    <g id="text_7">
     <text style="font-size: 58.4px; font-family: 'DejaVu Sans', sans-serif; text-anchor: start" x="472.7816" y="664.731735" transform="rotate(-0 472.7816 664.731735)">bulk_exp</text>
    </g>
   </g>
  </g>
 </g>
 <defs>
  <clipPath id="p1ad1f65f1b">
   <rect x="255.3" y="44.4" width="1627.6" height="1616.9"/>
  </clipPath>
 </defs>
<clipPath id="offclip"><rect x="0" y="31.2" width="1932" height="40"/></clipPath>
<text clip-path="url(#offclip)" x="255.3" y="33.0" style="font-size: 58.4px; font-family: 'DejaVu Sans', sans-serif; fill: #000000">1e9</text>
</svg>

</body></html>
